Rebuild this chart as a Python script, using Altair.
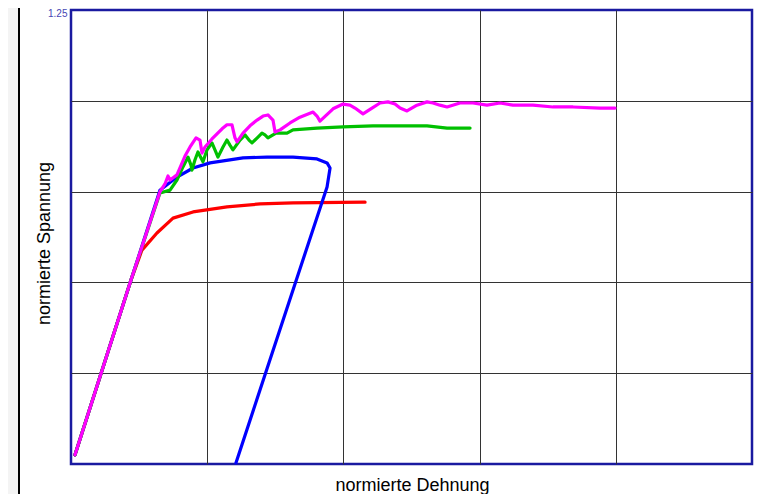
import altair as alt
import pandas as pd

# Series names and colours
series_names = ["rot", "blau", "grün", "magenta"]
series_colors = ["#ff0000", "#0000ff", "#00c000", "#ff00ff"]

# normierte Dehnung (x) / normierte Spannung (y)
red_x = [0.029, 0.441, 0.521, 0.631, 0.749, 0.896, 1.145, 1.388, 1.630, 2.159]
red_y = [0.025, 0.507, 0.589, 0.636, 0.677, 0.694, 0.708, 0.716, 0.719, 0.721]

blue_x = [0.029, 0.441, 0.653, 0.778, 0.896, 1.021, 1.263, 1.439, 1.630, 1.806, 1.880, 1.902, 1.880, 1.211]
blue_y = [0.025, 0.507, 0.754, 0.790, 0.815, 0.829, 0.843, 0.845, 0.845, 0.840, 0.829, 0.815, 0.763, 0.003]

green_x = [0.029, 0.441, 0.653, 0.727, 0.778, 0.822, 0.859, 0.881, 0.888, 0.910, 0.932, 0.954,
           0.969, 0.999, 1.035, 1.057, 1.079, 1.116, 1.145, 1.167, 1.189, 1.241, 1.278, 1.307,
           1.329, 1.373, 1.402, 1.424, 1.446, 1.505, 1.586, 1.630, 1.806, 1.997, 2.217, 2.614,
           2.761, 2.930]
green_y = [0.025, 0.507, 0.746, 0.754, 0.782, 0.818, 0.845, 0.823, 0.809, 0.837, 0.859, 0.843,
           0.832, 0.865, 0.884, 0.865, 0.845, 0.873, 0.892, 0.878, 0.865, 0.892, 0.906, 0.892,
           0.884, 0.900, 0.911, 0.906, 0.898, 0.911, 0.911, 0.920, 0.925, 0.928, 0.931, 0.931,
           0.925, 0.925]

magenta_x = [0.029, 0.441, 0.653, 0.690, 0.712, 0.727, 0.778, 0.837, 0.874, 0.918, 0.947, 0.962,
             0.984, 1.035, 1.072, 1.109, 1.145, 1.182, 1.204, 1.219, 1.263, 1.314, 1.366, 1.410,
             1.446, 1.483, 1.498, 1.535, 1.608, 1.681, 1.777, 1.806, 1.828, 1.924, 1.997, 2.048,
             2.085, 2.144, 2.210, 2.269, 2.327, 2.379, 2.416, 2.467, 2.540, 2.614, 2.658, 2.709,
             2.761, 2.856, 2.952, 3.054, 3.150, 3.245, 3.392, 3.539, 3.686, 3.884, 3.994]
magenta_y = [0.025, 0.507, 0.749, 0.771, 0.793, 0.782, 0.796, 0.848, 0.873, 0.898, 0.892, 0.856,
             0.873, 0.895, 0.909, 0.923, 0.934, 0.934, 0.898, 0.887, 0.911, 0.931, 0.947, 0.958,
             0.961, 0.947, 0.914, 0.920, 0.939, 0.955, 0.969, 0.958, 0.944, 0.978, 0.991, 0.988,
             0.980, 0.964, 0.980, 0.994, 0.997, 0.991, 0.980, 0.972, 0.988, 0.997, 0.994, 0.988,
             0.983, 0.994, 0.994, 0.988, 0.994, 0.988, 0.988, 0.983, 0.983, 0.980, 0.980]

x_grid = [1, 2, 3, 4]
y_ticks = [0.25, 0.5, 0.75, 1.0, 1.25]

rows = []
for name, xs, ys in [("rot", red_x, red_y), ("blau", blue_x, blue_y),
                     ("grün", green_x, green_y), ("magenta", magenta_x, magenta_y)]:
    for i, (xv, yv) in enumerate(zip(xs, ys)):
        rows.append({"serie": name, "x": xv, "y": yv, "i": i})
df = pd.DataFrame(rows)

FONT = "Liberation Sans"
FRAME = "#1a1aa0"

x_enc = alt.X("x:Q", scale=alt.Scale(domain=[0, 5], nice=False, zero=False),
              axis=alt.Axis(values=x_grid, labels=False, ticks=False, domain=False,
                            grid=True, gridColor="#333333", gridWidth=1,
                            title="normierte Dehnung", titleFont=FONT, titleFontSize=18,
                            titleFontWeight="normal", titleColor="#000000",
                            titleX=341, titleY=21, titleBaseline="middle", titleAlign="center"))
y_enc = alt.Y("y:Q", scale=alt.Scale(domain=[0, 1.25], nice=False, zero=False),
              axis=alt.Axis(values=y_ticks, labelExpr="datum.value == 1.25 ? '1.25' : ''",
                            labelColor="#4646b4", labelFont=FONT, labelFontSize=10,
                            labelBaseline="top", labelOffset=-2,
                            labelPadding=4, ticks=False, domain=False,
                            grid=True, gridWidth=1,
                            gridColor={"condition": {"test": "datum.value >= 1.2", "value": "transparent"},
                                       "value": "#333333"},
                            title="normierte Spannung", titleFont=FONT, titleFontSize=18,
                            titleFontWeight="normal", titleColor="#000000",
                            titleX=-27, titleY=233, titleBaseline="middle", titleAlign="center"))

color_enc = alt.Color("serie:N", scale=alt.Scale(domain=series_names, range=series_colors), legend=None)

layers = []
for name in series_names:
    ch = alt.Chart(df).transform_filter(alt.datum.serie == name).mark_line(
        strokeWidth=3.2, strokeJoin="round", strokeCap="round"
    ).encode(x=x_enc, y=y_enc, color=color_enc, order="i:Q")
    layers.append(ch)

# decoration: grey strip and black edge line at the left of the picture
strip = alt.Chart(df).mark_rect(color="#f4f4f4").encode(
    x=alt.value(-63), x2=alt.value(-52), y=alt.value(-10), y2=alt.value(490))
edge = alt.Chart(df).mark_rule(color="#000000", strokeWidth=1.5).encode(
    x=alt.value(-52), y=alt.value(-10), y2=alt.value(490))

chart = alt.layer(strip, edge, *layers).properties(
    width=681, height=454,
    padding={"left": 63, "top": 2, "right": 14, "bottom": 30},
    autosize=alt.AutoSizeParams(type="none"),
    background="#ffffff",
).configure_view(stroke=FRAME, strokeWidth=2.5)

chart.save("out.html", embed_options={"renderer": "svg", "actions": False})
